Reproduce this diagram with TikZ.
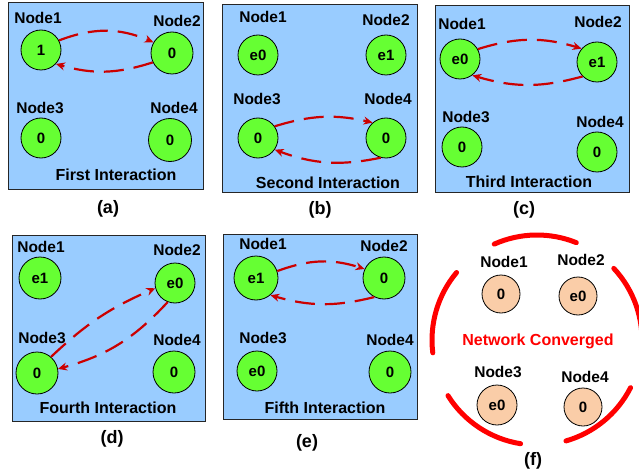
\documentclass[tikz,border=0pt]{standalone}
\usepackage{fontspec}
\setmainfont{Liberation Sans}
\usetikzlibrary{arrows.meta}
\definecolor{panelblue}{RGB}{153,204,255}
\definecolor{agentgreen}{RGB}{102,255,51}
\definecolor{peach}{RGB}{250,205,168}
\definecolor{msgred}{RGB}{204,0,0}
\definecolor{ringred}{RGB}{255,0,0}
\begin{document}
\begin{tikzpicture}[x=1pt,y=-1pt,
  panel/.style={draw=black!85, line width=1pt, fill=panelblue},
  agent/.style={circle, draw=black, line width=0.8pt, fill=agentgreen, inner sep=0pt,
                minimum size=40pt, font=\fontsize{15}{18}\selectfont\bfseries},
  settled/.style={agent, fill=peach, minimum size=38pt},
  lbl/.style={font=\fontsize{15.5}{18}\selectfont\bfseries, inner sep=0pt},
  title/.style={font=\fontsize{16}{18}\selectfont\bfseries, inner sep=0pt},
  sublabel/.style={font=\fontsize{18}{20}\selectfont\bfseries, inner sep=0pt},
  msg/.style={draw=msgred, line width=2.2pt, dash pattern=on 20pt off 10pt,
              -{Stealth[length=9pt,width=8pt]}},
  ring/.style={draw=ringred, line width=5pt, line cap=round}]
\useasboundingbox (0,0) rectangle (639,473);

% ---------- (a) First interaction ----------
\draw[panel] (8,3) rectangle (203,189);
\node[agent] (a1) at (41,50) {1};
\node[agent, minimum size=42pt] (a2) at (172,53) {0};
\node[agent] (a3) at (41,138) {0};
\node[agent, minimum size=43pt] (a4) at (170,140) {0};
\node[lbl] (la1) at (38,18) {Node1};
\node[lbl] (la2) at (177,21) {Node2};
\node[lbl] (la3) at (40,108) {Node3};
\node[lbl] (la4) at (174,108) {Node4};
\node[title] (ta) at (116,175) {First Interaction};
\node[sublabel] (ca) at (108,209) {(a)};
\draw[msg] (a1.28) to[bend left=22] (a2.150);
\draw[msg] (a2.206) to[bend left=17] (a1.317);

% ---------- (b) Second interaction ----------
\draw[panel] (222,5) rectangle (417,192);
\node[agent] (b1) at (258,55) {e0};
\node[agent] (b2) at (386,55) {e1};
\node[agent] (b3) at (258,138) {0};
\node[agent] (b4) at (386,138) {0};
\node[lbl] (lb1) at (263,17) {Node1};
\node[lbl] (lb2) at (386,20) {Node2};
\node[lbl] (lb3) at (257,99) {Node3};
\node[lbl] (lb4) at (388,99) {Node4};
\node[title] (tb) at (328,183) {Second Interaction};
\node[sublabel] (cb) at (320,210) {(b)};
\draw[msg] (b3.35) to[bend left=15] (b4.131);
\draw[msg] (b4.255) to[bend left=16] (b3.325);

% ---------- (c) Third interaction ----------
\draw[panel] (435,6) rectangle (629,192);
\node[agent] (c1) at (460,59) {e0};
\node[agent] (c2) at (597,62) {e1};
\node[agent] (c3) at (462,147) {0};
\node[agent] (c4) at (597,152) {0};
\node[lbl] (lc1) at (462,24) {Node1};
\node[lbl] (lc2) at (598,22) {Node2};
\node[lbl] (lc3) at (466,117) {Node3};
\node[lbl] (lc4) at (600,122) {Node4};
\node[title] (tc) at (529,182) {Third Interaction};
\node[sublabel] (cc) at (524,210) {(c)};
\draw[msg] (c1.29) to[bend left=17] (c2.139);
\draw[msg] (c2.225) to[bend left=16] (c1.307);

% ---------- (d) Fourth interaction ----------
\draw[panel] (12,235) rectangle (205,421);
\node[agent, minimum size=42pt] (d1) at (40,278) {e1};
\node[agent] (d2) at (175,283) {e0};
\node[agent, minimum size=42pt] (d3) at (37,373) {0};
\node[agent, minimum size=42pt] (d4) at (174,372) {0};
\node[lbl] (ld1) at (41,247) {Node1};
\node[lbl] (ld2) at (177,250) {Node2};
\node[lbl] (ld3) at (42,338) {Node3};
\node[lbl] (ld4) at (177,340) {Node4};
\node[title] (td) at (108,408) {Fourth Interaction};
\node[sublabel] (cd) at (112,439) {(d)};
\draw[msg] (d3.49) to[bend left=10] (d2.195);
\draw[msg] (d2.249) to[bend left=16] (d3.11);

% ---------- (e) Fifth interaction ----------
\draw[panel] (223,234) rectangle (417,419);
\node[agent, minimum size=44pt] (e1) at (256,278) {e1};
\node[agent, minimum size=42pt] (e2) at (384,278) {0};
\node[agent] (e3) at (257,371) {e0};
\node[agent, minimum size=42pt] (e4) at (390,372) {0};
\node[lbl] (le1) at (263,244) {Node1};
\node[lbl] (le2) at (384,246) {Node2};
\node[lbl] (le3) at (263,338) {Node3};
\node[lbl] (le4) at (390,340) {Node4};
\node[title] (te) at (325,408) {Fifth Interaction};
\node[sublabel] (ce) at (307,443) {(e)};
\draw[msg] (e1.18) to[bend left=19] (e2.155);
\draw[msg] (e2.243) to[bend left=15] (e1.310);

% ---------- (f) Converged network ----------
\coordinate (hub) at (537,340);
\draw[ring] ([shift={(68:105pt)}]hub) arc[start angle=68, end angle=114, radius=105pt];
\draw[ring] ([shift={(140:105pt)}]hub) arc[start angle=140, end angle=187, radius=105pt];
\draw[ring] ([shift={(212:105pt)}]hub) arc[start angle=212, end angle=261, radius=105pt];
\draw[ring] ([shift={(286:105pt)}]hub) arc[start angle=286, end angle=333, radius=105pt];
\draw[ring] ([shift={(-5:105pt)}]hub) arc[start angle=-5, end angle=43, radius=105pt];
\node[settled] (f1) at (501,294) {0};
\node[settled] (f2) at (578,296) {e0};
\node[settled, minimum size=40pt] (f3) at (497,405) {e0};
\node[settled] (f4) at (583,407) {0};
\node[lbl] (lf1) at (504,262) {Node1};
\node[lbl] (lf2) at (581,260) {Node2};
\node[lbl] (lf3) at (498,372) {Node3};
\node[lbl] (lf4) at (585,377) {Node4};
\node[title, text=ringred] (tf) at (538,341) {Network Converged};
\node[sublabel] (cf) at (533,461) {(f)};
\end{tikzpicture}
\end{document}
